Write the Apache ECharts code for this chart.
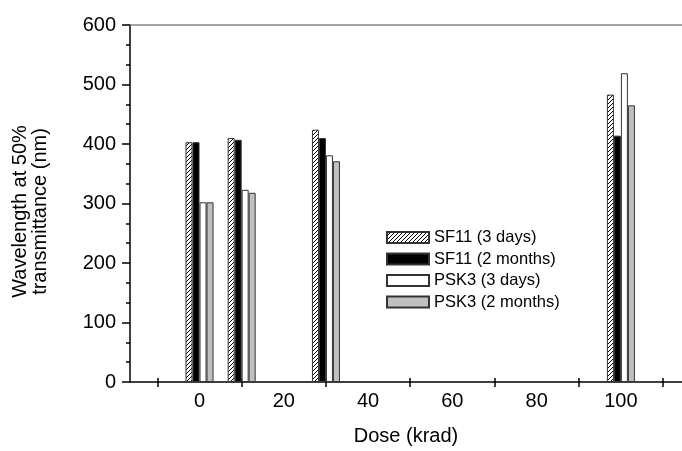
<!DOCTYPE html>
<html>
<head>
<meta charset="utf-8">
<script src="https://cdn.jsdelivr.net/npm/echarts@6/dist/echarts.min.js"></script>
<style>html,body{margin:0;padding:0;background:#fff}#c{width:682px;height:451px}</style>
</head>
<body>
<div id="c"></div>
<script>
const doses = [0, 10, 30, 100];
const sf11_3days = [403, 410, 424, 483];
const sf11_2months = [403, 407, 410, 414];
const psk3_3days = [302, 323, 381, 519];
const psk3_2months = [302, 318, 371, 465];
const seriesNames = ['SF11 (3 days)', 'SF11 (2 months)', 'PSK3 (3 days)', 'PSK3 (2 months)'];
const xTickValues = [-10, 10, 30, 50, 70, 90, 110];
const xLabelValues = [0, 20, 40, 60, 80, 100];

const FONT = "'Liberation Sans', Arial, sans-serif";

function hatch() {
  const c = document.createElement('canvas');
  c.width = 4; c.height = 4;
  const g = c.getContext('2d');
  g.fillStyle = '#fff'; g.fillRect(0, 0, 4, 4);
  g.strokeStyle = '#000'; g.lineWidth = 1;
  g.beginPath();
  g.moveTo(0, 4); g.lineTo(4, 0);
  g.moveTo(-1, 1); g.lineTo(1, -1);
  g.moveTo(3, 5); g.lineTo(5, 3);
  g.stroke();
  return c;
}

const pairs = arr => doses.map((d, i) => [d, arr[i]]);
const fills = [{image: hatch(), repeat: 'repeat'}, '#000000', '#ffffff', '#c0c0c0'];
const datas = [sf11_3days, sf11_2months, psk3_3days, psk3_2months];

const chart = echarts.init(document.getElementById('c'));
const xBase = {type: 'value', min: -16.5, max: 114.5, gridIndex: 0, splitLine: {show: false}};
chart.setOption({
  animation: false,
  textStyle: {fontFamily: FONT},
  grid: {left: 130, right: 0, top: 25, bottom: 65},
  legend: {
    orient: 'vertical', left: 381, top: 224,
    itemWidth: 42, itemHeight: 11, itemGap: 4.5, icon: 'rect',
    textStyle: {fontSize: 16.5, fontFamily: FONT, color: '#000', lineHeight: 17},
    data: seriesNames
  },
  xAxis: [
    Object.assign({}, xBase, {
      position: 'bottom',
      name: 'Dose (krad)', nameLocation: 'middle', nameGap: 44,
      nameTextStyle: {fontSize: 20, color: '#000', fontFamily: FONT},
      axisLine: {onZero: false, lineStyle: {color: '#000', width: 1.5}},
      axisTick: {show: true, inside: false, length: 5, customValues: xTickValues, lineStyle: {color: '#000', width: 1.5}},
      axisLabel: {customValues: xLabelValues, fontSize: 20, color: '#000', margin: 9, fontFamily: FONT}
    }),
    Object.assign({}, xBase, {
      position: 'bottom',
      axisLine: {show: false, onZero: false},
      axisTick: {show: true, inside: true, length: 4, customValues: xTickValues, lineStyle: {color: '#000', width: 1.5}},
      axisLabel: {show: false}
    }),
    Object.assign({}, xBase, {
      position: 'top',
      axisLine: {show: true, onZero: false, lineStyle: {color: '#888', width: 1.5}},
      axisTick: {show: false},
      axisLabel: {show: false}
    })
  ],
  yAxis: {
    type: 'value', min: 0, max: 600, interval: 100,
    name: 'Wavelength at 50%\ntransmittance (nm)', nameLocation: 'middle', nameGap: 80,
    nameTextStyle: {fontSize: 20, color: '#000', lineHeight: 20, fontFamily: FONT, padding: [0, 16, 0, 0]},
    axisLine: {show: true, onZero: false, lineStyle: {color: '#000', width: 1.5}},
    axisTick: {show: true, length: 8, lineStyle: {color: '#000', width: 1.5}},
    minorTick: {show: true, splitNumber: 3, length: 4, lineStyle: {color: '#000', width: 1.5}},
    axisLabel: {fontSize: 20, color: '#000', margin: 14, fontFamily: FONT},
    splitLine: {show: false}
  },
  series: seriesNames.map((n, k) => ({
    name: n, type: 'bar', xAxisIndex: 0, yAxisIndex: 0,
    barWidth: 7, barGap: '0%',
    itemStyle: {color: fills[k], borderColor: '#333', borderWidth: 1},
    data: pairs(datas[k])
  }))
});
</script>
</body>
</html>
